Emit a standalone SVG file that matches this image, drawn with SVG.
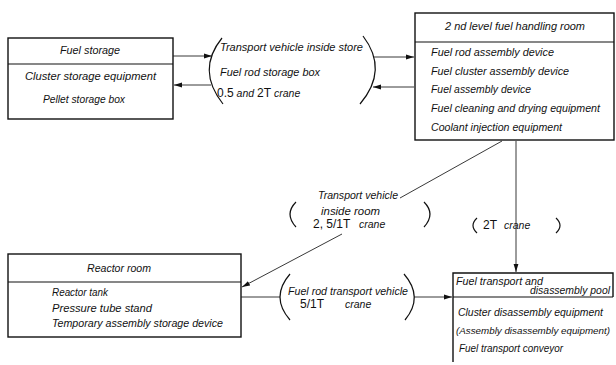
<svg xmlns="http://www.w3.org/2000/svg" width="616" height="365" viewBox="0 0 616 365">
  <style>
    .box { fill: none; stroke: #111; stroke-width: 1.4; }
    .rule { fill: none; stroke: #111; stroke-width: 1.1; }
    .conn { fill: none; stroke: #222; stroke-width: 0.9; }
    .paren { fill: none; stroke: #111; stroke-width: 1.2; }
    text { font-family: "Liberation Sans", Arial, sans-serif; font-size: 10.5px; font-style: italic; fill: #111; }
    .up { font-style: normal; font-size: 12px; }
    .tight { font-size: 9.5px; }
  </style>
  <defs>
    <marker id="arrow" markerUnits="userSpaceOnUse" markerWidth="9" markerHeight="6" refX="8" refY="3" orient="auto">
      <path d="M0,0.6 L8,3 L0,5.4 z" fill="#111"/>
    </marker>
  </defs>

  <rect width="616" height="365" fill="#fff"/>

  <!-- Fuel storage -->
  <g id="fuel-storage">
    <rect class="box" x="8" y="38" width="165" height="81"/>
    <line class="rule" x1="8" y1="64" x2="173" y2="64"/>
    <text x="60" y="54" textLength="60" lengthAdjust="spacingAndGlyphs">Fuel storage</text>
    <text x="25" y="80" textLength="131" lengthAdjust="spacingAndGlyphs">Cluster storage equipment</text>
    <text x="43" y="103" textLength="82" lengthAdjust="spacingAndGlyphs">Pellet storage box</text>
  </g>

  <!-- Store transport means -->
  <g id="store-transport">
    <path class="paren" d="M222,38 Q196,70 223,104"/>
    <path class="paren" d="M363,36 Q389,70 360,104"/>
    <text x="220" y="51" textLength="143" lengthAdjust="spacingAndGlyphs">Transport vehicle inside store</text>
    <text x="220" y="76" textLength="100" lengthAdjust="spacingAndGlyphs">Fuel rod storage box</text>
    <text x="217" y="97"><tspan class="up">0.5</tspan> and <tspan class="up">2T</tspan> crane</text>
  </g>

  <!-- 2nd level fuel handling room -->
  <g id="handling-room">
    <rect class="box" x="415" y="13" width="199" height="127"/>
    <line class="rule" x1="415" y1="42" x2="614" y2="42"/>
    <text x="445" y="30" textLength="140" lengthAdjust="spacingAndGlyphs">2 nd level fuel handling room</text>
    <text x="431" y="56" textLength="123" lengthAdjust="spacingAndGlyphs">Fuel rod assembly device</text>
    <text x="431" y="75" textLength="138" lengthAdjust="spacingAndGlyphs">Fuel cluster assembly device</text>
    <text x="431" y="93" textLength="100" lengthAdjust="spacingAndGlyphs">Fuel assembly device</text>
    <text x="431" y="112" textLength="169" lengthAdjust="spacingAndGlyphs">Fuel cleaning and drying equipment</text>
    <text x="431" y="131" textLength="131" lengthAdjust="spacingAndGlyphs">Coolant injection equipment</text>
  </g>

  <!-- Room transport means -->
  <g id="room-transport">
    <path class="paren" d="M296,202 Q284,214 296,227"/>
    <path class="paren" d="M424,202 Q436,214 424,227"/>
    <text x="318" y="199" textLength="80" lengthAdjust="spacingAndGlyphs">Transport vehicle</text>
    <text x="321" y="215" textLength="59" lengthAdjust="spacingAndGlyphs">inside room</text>
    <text x="313" y="228"><tspan class="up">2, 5/1T</tspan><tspan x="359">crane</tspan></text>
  </g>

  <!-- Pool crane -->
  <g id="pool-crane">
    <path class="paren" d="M477,218 Q469,225.5 477,233"/>
    <path class="paren" d="M556,218 Q564,225.5 556,233"/>
    <text x="483" y="229"><tspan class="up">2T</tspan><tspan x="504">crane</tspan></text>
  </g>

  <!-- Reactor room -->
  <g id="reactor-room">
    <rect class="box" x="8" y="254" width="233" height="83"/>
    <line class="rule" x1="8" y1="282" x2="241" y2="282"/>
    <text x="87" y="272" textLength="64" lengthAdjust="spacingAndGlyphs">Reactor room</text>
    <text x="52" y="296" textLength="56" lengthAdjust="spacingAndGlyphs">Reactor tank</text>
    <text x="52" y="312" textLength="100" lengthAdjust="spacingAndGlyphs">Pressure tube stand</text>
    <text x="52" y="327" textLength="171" lengthAdjust="spacingAndGlyphs">Temporary assembly storage device</text>
  </g>

  <!-- Reactor-to-pool transport means -->
  <g id="pool-transport">
    <path class="paren" d="M290,274 Q270,297 290,320"/>
    <path class="paren" d="M404,274 Q424,297 405,320"/>
    <text x="288" y="295" textLength="120" lengthAdjust="spacingAndGlyphs">Fuel rod transport vehicle</text>
    <text x="300" y="308"><tspan class="up">5/1T</tspan><tspan x="345">crane</tspan></text>
  </g>

  <!-- Fuel transport and disassembly pool -->
  <g id="disassembly-pool">
    <polyline class="box" points="453,362 453,273 613,273 613,297"/>
    <line class="rule" x1="453" y1="297" x2="613" y2="297"/>
    <text x="456" y="285" textLength="87" lengthAdjust="spacingAndGlyphs">Fuel transport and</text>
    <text x="530" y="294" textLength="80" lengthAdjust="spacingAndGlyphs">disassembly pool</text>
    <text x="458" y="316" textLength="145" lengthAdjust="spacingAndGlyphs">Cluster disassembly equipment</text>
    <text class="tight" x="456" y="334" textLength="154" lengthAdjust="spacingAndGlyphs">(Assembly disassembly equipment)</text>
    <text x="459" y="352" textLength="104" lengthAdjust="spacingAndGlyphs">Fuel transport conveyor</text>
  </g>

  <!-- Connectors -->
  <g id="connectors">
    <line class="conn" x1="173" y1="56" x2="212" y2="56" marker-end="url(#arrow)"/>
    <line class="conn" x1="211" y1="85" x2="174" y2="85" marker-end="url(#arrow)"/>
    <line class="conn" x1="374" y1="57" x2="414" y2="57" marker-end="url(#arrow)"/>
    <line class="conn" x1="414" y1="87" x2="373" y2="87" marker-end="url(#arrow)"/>
    <line class="conn" x1="502" y1="141" x2="400" y2="198"/>
    <line class="conn" x1="342" y1="234" x2="242" y2="287" marker-end="url(#arrow)"/>
    <line class="conn" x1="516" y1="141" x2="516" y2="272" marker-end="url(#arrow)"/>
    <line class="conn" x1="241" y1="297" x2="280" y2="297"/>
    <line class="conn" x1="414" y1="297" x2="452" y2="297" marker-end="url(#arrow)"/>
  </g>
</svg>
